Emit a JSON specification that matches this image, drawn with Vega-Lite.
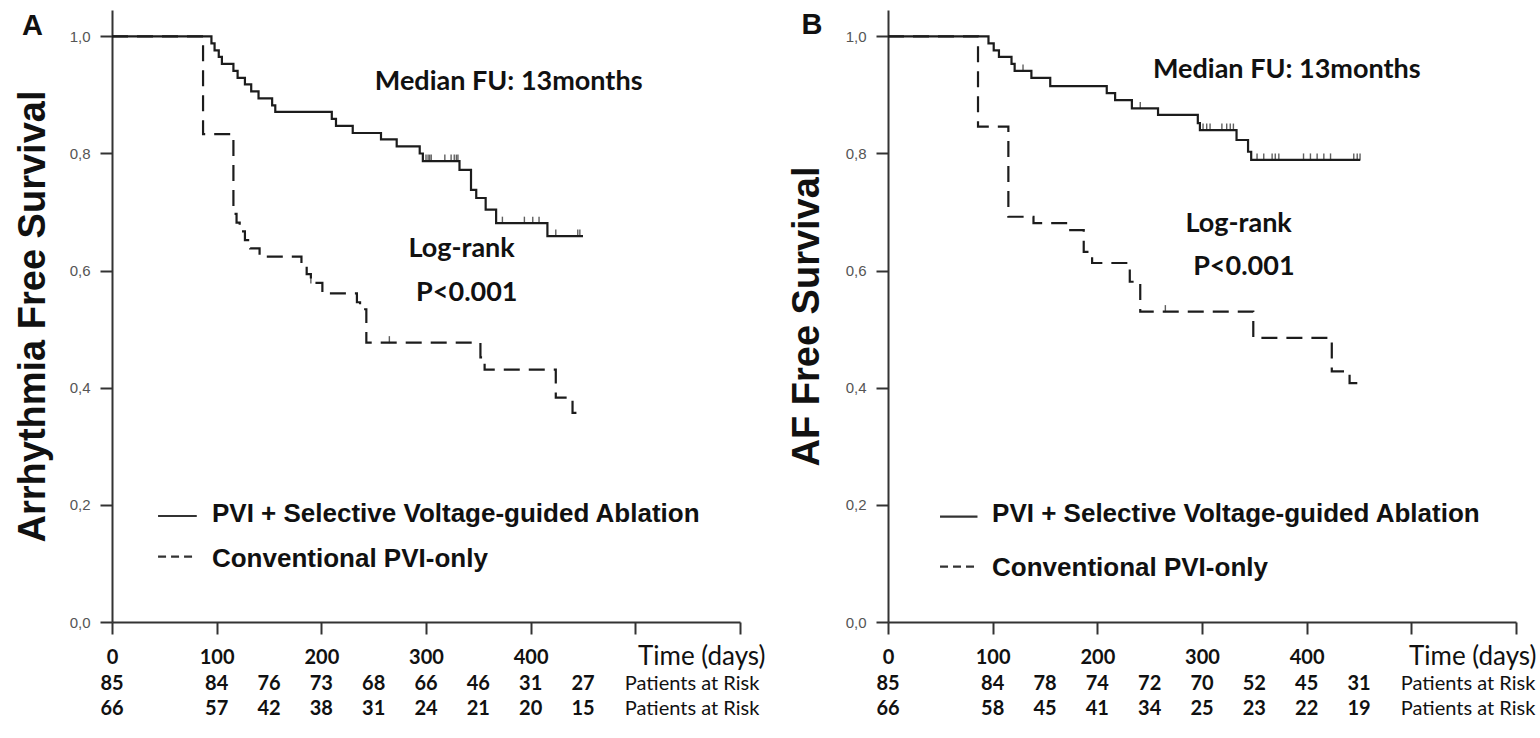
{
  "$schema": "https://vega.github.io/schema/vega-lite/v6.json",
  "background": "white",
  "autosize": {"type": "pad"},
  "padding": {"left": 14, "top": 10, "right": 0, "bottom": 0},
  "config": {"view": {"stroke": null}, "axis": {"grid": false}},
  "datasets": {
    "survA": [
      {"group": "pvi", "t": 0, "s": 1.0}, {"group": "pvi", "t": 95, "s": 0.988}, {"group": "pvi", "t": 98, "s": 0.976}, {"group": "pvi", "t": 102, "s": 0.965}, {"group": "pvi", "t": 105, "s": 0.953}, {"group": "pvi", "t": 116, "s": 0.941}, {"group": "pvi", "t": 120, "s": 0.929}, {"group": "pvi", "t": 127, "s": 0.918}, {"group": "pvi", "t": 133, "s": 0.906}, {"group": "pvi", "t": 140, "s": 0.894}, {"group": "pvi", "t": 153, "s": 0.882}, {"group": "pvi", "t": 156, "s": 0.871}, {"group": "pvi", "t": 210, "s": 0.859}, {"group": "pvi", "t": 214, "s": 0.847}, {"group": "pvi", "t": 230, "s": 0.835}, {"group": "pvi", "t": 257, "s": 0.824}, {"group": "pvi", "t": 272, "s": 0.812}, {"group": "pvi", "t": 294, "s": 0.8}, {"group": "pvi", "t": 297, "s": 0.787}, {"group": "pvi", "t": 332, "s": 0.772}, {"group": "pvi", "t": 343, "s": 0.738}, {"group": "pvi", "t": 348, "s": 0.724}, {"group": "pvi", "t": 357, "s": 0.704}, {"group": "pvi", "t": 367, "s": 0.681}, {"group": "pvi", "t": 416, "s": 0.659}, {"group": "pvi", "t": 450, "s": 0.659},
      {"group": "conv", "t": 0, "s": 1.0}, {"group": "conv", "t": 87, "s": 0.833}, {"group": "conv", "t": 116, "s": 0.697}, {"group": "conv", "t": 119, "s": 0.682}, {"group": "conv", "t": 122, "s": 0.667}, {"group": "conv", "t": 127, "s": 0.652}, {"group": "conv", "t": 132, "s": 0.638}, {"group": "conv", "t": 141, "s": 0.624}, {"group": "conv", "t": 181, "s": 0.609}, {"group": "conv", "t": 186, "s": 0.594}, {"group": "conv", "t": 190, "s": 0.579}, {"group": "conv", "t": 201, "s": 0.561}, {"group": "conv", "t": 234, "s": 0.546}, {"group": "conv", "t": 237, "s": 0.534}, {"group": "conv", "t": 243, "s": 0.477}, {"group": "conv", "t": 352, "s": 0.452}, {"group": "conv", "t": 356, "s": 0.431}, {"group": "conv", "t": 424, "s": 0.383}, {"group": "conv", "t": 440, "s": 0.357}, {"group": "conv", "t": 448, "s": 0.357}
    ],
    "survB": [
      {"group": "pvi", "t": 0, "s": 1.0}, {"group": "pvi", "t": 96, "s": 0.988}, {"group": "pvi", "t": 101, "s": 0.976}, {"group": "pvi", "t": 106, "s": 0.965}, {"group": "pvi", "t": 118, "s": 0.953}, {"group": "pvi", "t": 121, "s": 0.941}, {"group": "pvi", "t": 137, "s": 0.929}, {"group": "pvi", "t": 155, "s": 0.915}, {"group": "pvi", "t": 209, "s": 0.903}, {"group": "pvi", "t": 217, "s": 0.891}, {"group": "pvi", "t": 233, "s": 0.877}, {"group": "pvi", "t": 258, "s": 0.866}, {"group": "pvi", "t": 296, "s": 0.852}, {"group": "pvi", "t": 298, "s": 0.84}, {"group": "pvi", "t": 333, "s": 0.823}, {"group": "pvi", "t": 344, "s": 0.803}, {"group": "pvi", "t": 347, "s": 0.789}, {"group": "pvi", "t": 451, "s": 0.789},
      {"group": "conv", "t": 0, "s": 1.0}, {"group": "conv", "t": 86, "s": 0.846}, {"group": "conv", "t": 115, "s": 0.692}, {"group": "conv", "t": 139, "s": 0.681}, {"group": "conv", "t": 172, "s": 0.669}, {"group": "conv", "t": 187, "s": 0.632}, {"group": "conv", "t": 195, "s": 0.613}, {"group": "conv", "t": 231, "s": 0.581}, {"group": "conv", "t": 241, "s": 0.53}, {"group": "conv", "t": 349, "s": 0.485}, {"group": "conv", "t": 424, "s": 0.428}, {"group": "conv", "t": 441, "s": 0.408}, {"group": "conv", "t": 451, "s": 0.408}
    ],
    "censA": [
      {"t": 300, "s": 0.787}, {"t": 302, "s": 0.787}, {"t": 303.5, "s": 0.787}, {"t": 305, "s": 0.787}, {"t": 318, "s": 0.787}, {"t": 324, "s": 0.787}, {"t": 327, "s": 0.787}, {"t": 329, "s": 0.787}, {"t": 330.5, "s": 0.787},
      {"t": 373, "s": 0.681}, {"t": 394, "s": 0.681}, {"t": 402, "s": 0.681}, {"t": 408, "s": 0.681},
      {"t": 424, "s": 0.659}, {"t": 445, "s": 0.659}, {"t": 447, "s": 0.659},
      {"t": 190, "s": 0.579}, {"t": 265, "s": 0.477}
    ],
    "censB": [
      {"t": 129, "s": 0.941}, {"t": 241, "s": 0.877},
      {"t": 301, "s": 0.84}, {"t": 304.5, "s": 0.84}, {"t": 307.7, "s": 0.84}, {"t": 319, "s": 0.84}, {"t": 323.6, "s": 0.84}, {"t": 327, "s": 0.84}, {"t": 330, "s": 0.84},
      {"t": 352.6, "s": 0.789}, {"t": 359, "s": 0.789}, {"t": 367, "s": 0.789}, {"t": 370, "s": 0.789}, {"t": 373.4, "s": 0.789}, {"t": 397, "s": 0.789}, {"t": 403.6, "s": 0.789}, {"t": 410, "s": 0.789}, {"t": 416.4, "s": 0.789}, {"t": 422.8, "s": 0.789}, {"t": 445, "s": 0.789}, {"t": 448.3, "s": 0.789}, {"t": 451, "s": 0.789},
      {"t": 265, "s": 0.53}
    ],
    "riskA": [
      {"group": "pvi", "t": 0, "n": 85}, {"group": "pvi", "t": 100, "n": 84}, {"group": "pvi", "t": 150, "n": 76}, {"group": "pvi", "t": 200, "n": 73}, {"group": "pvi", "t": 250, "n": 68}, {"group": "pvi", "t": 300, "n": 66}, {"group": "pvi", "t": 350, "n": 46}, {"group": "pvi", "t": 400, "n": 31}, {"group": "pvi", "t": 450, "n": 27},
      {"group": "conv", "t": 0, "n": 66}, {"group": "conv", "t": 100, "n": 57}, {"group": "conv", "t": 150, "n": 42}, {"group": "conv", "t": 200, "n": 38}, {"group": "conv", "t": 250, "n": 31}, {"group": "conv", "t": 300, "n": 24}, {"group": "conv", "t": 350, "n": 21}, {"group": "conv", "t": 400, "n": 20}, {"group": "conv", "t": 450, "n": 15}
    ],
    "riskB": [
      {"group": "pvi", "t": 0, "n": 85}, {"group": "pvi", "t": 100, "n": 84}, {"group": "pvi", "t": 150, "n": 78}, {"group": "pvi", "t": 200, "n": 74}, {"group": "pvi", "t": 250, "n": 72}, {"group": "pvi", "t": 300, "n": 70}, {"group": "pvi", "t": 350, "n": 52}, {"group": "pvi", "t": 400, "n": 45}, {"group": "pvi", "t": 450, "n": 31},
      {"group": "conv", "t": 0, "n": 66}, {"group": "conv", "t": 100, "n": 58}, {"group": "conv", "t": 150, "n": 45}, {"group": "conv", "t": 200, "n": 41}, {"group": "conv", "t": 250, "n": 34}, {"group": "conv", "t": 300, "n": 25}, {"group": "conv", "t": 350, "n": 23}, {"group": "conv", "t": 400, "n": 22}, {"group": "conv", "t": 450, "n": 19}
    ]
  },
  "bounds": "flush",
  "spacing": 148,
  "hconcat": [
    {
      "width": 628, "height": 612,
      "layer": [
        {
          "data": {"name": "survA"},
          "transform": [{"filter": "datum.group == 'pvi'"}],
          "mark": {"type": "line", "interpolate": "step-after", "strokeWidth": 2.2, "color": "#1c1c1c"},
          "encoding": {
            "x": {"field": "t", "type": "quantitative", "scale": {"domain": [0, 600], "nice": false, "zero": false},
              "axis": {"values": [0, 100, 200, 300, 400, 500, 600], "labelExpr": "datum.value <= 400 ? datum.label : ''", "labelFlush": false, "labelOverlap": false, "labelFont": "Lato", "labelFontSize": 20, "labelFontWeight": "bold", "labelColor": "#111", "labelPadding": 13, "tickSize": 12, "tickWidth": 2, "tickColor": "#333", "domainColor": "#333", "domainWidth": 2, "title": "Time (days)", "titleFont": "Lato", "titleFontSize": 26, "titleFontWeight": "normal", "titleColor": "#111", "titleAlign": "right", "titleAnchor": "end", "titleBaseline": "middle", "titleX": 653, "titleY": 34, "grid": false}},
            "y": {"field": "s", "type": "quantitative", "scale": {"domain": [0, 1.045], "nice": false, "zero": false},
              "axis": {"values": [0, 0.2, 0.4, 0.6, 0.8, 1], "labelExpr": "replace(format(datum.value, '.1f'), '.', ',')", "labelFlush": false, "labelOverlap": false, "labelFont": "Liberation Sans", "labelFontSize": 15, "labelColor": "#555", "labelPadding": 10, "tickSize": 12, "tickWidth": 2, "tickColor": "#333", "domainColor": "#333", "domainWidth": 2, "title": "Arrhythmia Free Survival", "titleFont": "Liberation Sans", "titleFontSize": 38, "titleFontWeight": "bold", "titleColor": "#111", "titlePadding": 17, "grid": false}}
          }
        },
        {
          "data": {"name": "survA"},
          "transform": [{"filter": "datum.group == 'conv'"}],
          "mark": {"type": "line", "interpolate": "step-after", "strokeWidth": 2.2, "color": "#1c1c1c", "strokeDash": [16, 9]},
          "encoding": {
            "x": {"field": "t", "type": "quantitative", "scale": {"domain": [0, 600]}},
            "y": {"field": "s", "type": "quantitative", "scale": {"domain": [0, 1.045]}}
          }
        },
        {
          "data": {"name": "censA"},
          "mark": {"type": "tick", "orient": "vertical", "size": 7, "thickness": 1.4, "color": "#1c1c1c", "yOffset": -3},
          "encoding": {
            "x": {"field": "t", "type": "quantitative", "scale": {"domain": [0, 600]}},
            "y": {"field": "s", "type": "quantitative", "scale": {"domain": [0, 1.045]}}
          }
        },
        {
          "data": {"name": "riskA"},
          "transform": [{"filter": "datum.group == 'pvi'"}],
          "mark": {"type": "text", "font": "Lato", "fontSize": 20, "fontWeight": "bold", "color": "#111", "align": "center", "baseline": "middle"},
          "encoding": {
            "x": {"field": "t", "type": "quantitative", "scale": {"domain": [0, 600]}},
            "y": {"datum": -0.106, "type": "quantitative", "scale": {"domain": [0, 1.045]}},
            "text": {"field": "n", "type": "quantitative"}
          }
        },
        {
          "data": {"name": "riskA"},
          "transform": [{"filter": "datum.group == 'conv'"}],
          "mark": {"type": "text", "font": "Lato", "fontSize": 20, "fontWeight": "bold", "color": "#111", "align": "center", "baseline": "middle"},
          "encoding": {
            "x": {"field": "t", "type": "quantitative", "scale": {"domain": [0, 600]}},
            "y": {"datum": -0.149, "type": "quantitative", "scale": {"domain": [0, 1.045]}},
            "text": {"field": "n", "type": "quantitative"}
          }
        },
        {
          "data": {"values": [{}]},
          "mark": {"type": "text", "text": "Patients at Risk", "font": "Lato", "fontSize": 20, "color": "#111", "align": "left", "baseline": "middle"},
          "encoding": {"x": {"datum": 490, "type": "quantitative", "scale": {"domain": [0, 600]}}, "y": {"datum": -0.106, "type": "quantitative", "scale": {"domain": [0, 1.045]}}}
        },
        {
          "data": {"values": [{}]},
          "mark": {"type": "text", "text": "Patients at Risk", "font": "Lato", "fontSize": 20, "color": "#111", "align": "left", "baseline": "middle"},
          "encoding": {"x": {"datum": 490, "type": "quantitative", "scale": {"domain": [0, 600]}}, "y": {"datum": -0.149, "type": "quantitative", "scale": {"domain": [0, 1.045]}}}
        },
        {
          "data": {"values": [{}]},
          "mark": {"type": "text", "text": "A", "font": "Liberation Sans", "fontWeight": "bold", "fontSize": 29, "color": "#111", "align": "center", "baseline": "middle"},
          "encoding": {"x": {"datum": -76, "type": "quantitative", "scale": {"domain": [0, 600]}}, "y": {"datum": 1.018, "type": "quantitative", "scale": {"domain": [0, 1.045]}}}
        },
        {
          "data": {"values": [{}]},
          "mark": {"type": "text", "text": "Median FU: 13months", "font": "Lato", "fontWeight": "bold", "fontSize": 27, "color": "#111", "align": "center", "baseline": "middle"},
          "encoding": {"x": {"datum": 379, "type": "quantitative", "scale": {"domain": [0, 600]}}, "y": {"datum": 0.922, "type": "quantitative", "scale": {"domain": [0, 1.045]}}}
        },
        {
          "data": {"values": [{}]},
          "mark": {"type": "text", "text": "Log-rank", "font": "Lato", "fontWeight": "bold", "fontSize": 27, "color": "#111", "align": "center", "baseline": "middle"},
          "encoding": {"x": {"datum": 334, "type": "quantitative", "scale": {"domain": [0, 600]}}, "y": {"datum": 0.637, "type": "quantitative", "scale": {"domain": [0, 1.045]}}}
        },
        {
          "data": {"values": [{}]},
          "mark": {"type": "text", "text": "P<0.001", "font": "Lato", "fontWeight": "bold", "fontSize": 27, "color": "#111", "align": "center", "baseline": "middle"},
          "encoding": {"x": {"datum": 339, "type": "quantitative", "scale": {"domain": [0, 600]}}, "y": {"datum": 0.562, "type": "quantitative", "scale": {"domain": [0, 1.045]}}}
        },
        {
          "data": {"values": [{}]},
          "mark": {"type": "rule", "strokeWidth": 2.2, "color": "#333"},
          "encoding": {"x": {"datum": 44, "type": "quantitative", "scale": {"domain": [0, 600]}}, "x2": {"datum": 81}, "y": {"datum": 0.181, "type": "quantitative", "scale": {"domain": [0, 1.045]}}}
        },
        {
          "data": {"values": [{}]},
          "mark": {"type": "rule", "strokeWidth": 2.2, "color": "#333", "strokeDash": [8, 5]},
          "encoding": {"x": {"datum": 44, "type": "quantitative", "scale": {"domain": [0, 600]}}, "x2": {"datum": 81}, "y": {"datum": 0.1115, "type": "quantitative", "scale": {"domain": [0, 1.045]}}}
        },
        {
          "data": {"values": [{}]},
          "mark": {"type": "text", "text": "PVI + Selective Voltage-guided Ablation", "font": "Liberation Sans", "fontWeight": "bold", "fontSize": 26, "color": "#111", "align": "left", "baseline": "middle"},
          "encoding": {"x": {"datum": 95.5, "type": "quantitative", "scale": {"domain": [0, 600]}}, "y": {"datum": 0.184, "type": "quantitative", "scale": {"domain": [0, 1.045]}}}
        },
        {
          "data": {"values": [{}]},
          "mark": {"type": "text", "text": "Conventional PVI-only", "font": "Liberation Sans", "fontWeight": "bold", "fontSize": 26, "color": "#111", "align": "left", "baseline": "middle"},
          "encoding": {"x": {"datum": 95.5, "type": "quantitative", "scale": {"domain": [0, 600]}}, "y": {"datum": 0.1076, "type": "quantitative", "scale": {"domain": [0, 1.045]}}}
        }
      ]
    },
    {
      "width": 628, "height": 612,
      "layer": [
        {
          "data": {"name": "survB"},
          "transform": [{"filter": "datum.group == 'pvi'"}],
          "mark": {"type": "line", "interpolate": "step-after", "strokeWidth": 2.2, "color": "#1c1c1c"},
          "encoding": {
            "x": {"field": "t", "type": "quantitative", "scale": {"domain": [0, 600], "nice": false, "zero": false},
              "axis": {"values": [0, 100, 200, 300, 400, 500, 600], "labelExpr": "datum.value <= 400 ? datum.label : ''", "labelFlush": false, "labelOverlap": false, "labelFont": "Lato", "labelFontSize": 20, "labelFontWeight": "bold", "labelColor": "#111", "labelPadding": 13, "tickSize": 12, "tickWidth": 2, "tickColor": "#333", "domainColor": "#333", "domainWidth": 2, "title": "Time (days)", "titleFont": "Lato", "titleFontSize": 26, "titleFontWeight": "normal", "titleColor": "#111", "titleAlign": "right", "titleAnchor": "end", "titleBaseline": "middle", "titleX": 648, "titleY": 34, "grid": false}},
            "y": {"field": "s", "type": "quantitative", "scale": {"domain": [0, 1.045], "nice": false, "zero": false},
              "axis": {"values": [0, 0.2, 0.4, 0.6, 0.8, 1], "labelExpr": "replace(format(datum.value, '.1f'), '.', ',')", "labelFlush": false, "labelOverlap": false, "labelFont": "Liberation Sans", "labelFontSize": 15, "labelColor": "#555", "labelPadding": 10, "tickSize": 12, "tickWidth": 2, "tickColor": "#333", "domainColor": "#333", "domainWidth": 2, "title": "AF Free Survival", "titleFont": "Liberation Sans", "titleFontSize": 38, "titleFontWeight": "bold", "titleColor": "#111", "titlePadding": 19, "grid": false}}
          }
        },
        {
          "data": {"name": "survB"},
          "transform": [{"filter": "datum.group == 'conv'"}],
          "mark": {"type": "line", "interpolate": "step-after", "strokeWidth": 2.2, "color": "#1c1c1c", "strokeDash": [16, 9]},
          "encoding": {
            "x": {"field": "t", "type": "quantitative", "scale": {"domain": [0, 600]}},
            "y": {"field": "s", "type": "quantitative", "scale": {"domain": [0, 1.045]}}
          }
        },
        {
          "data": {"name": "censB"},
          "mark": {"type": "tick", "orient": "vertical", "size": 7, "thickness": 1.4, "color": "#1c1c1c", "yOffset": -3},
          "encoding": {
            "x": {"field": "t", "type": "quantitative", "scale": {"domain": [0, 600]}},
            "y": {"field": "s", "type": "quantitative", "scale": {"domain": [0, 1.045]}}
          }
        },
        {
          "data": {"name": "riskB"},
          "transform": [{"filter": "datum.group == 'pvi'"}],
          "mark": {"type": "text", "font": "Lato", "fontSize": 20, "fontWeight": "bold", "color": "#111", "align": "center", "baseline": "middle"},
          "encoding": {
            "x": {"field": "t", "type": "quantitative", "scale": {"domain": [0, 600]}},
            "y": {"datum": -0.106, "type": "quantitative", "scale": {"domain": [0, 1.045]}},
            "text": {"field": "n", "type": "quantitative"}
          }
        },
        {
          "data": {"name": "riskB"},
          "transform": [{"filter": "datum.group == 'conv'"}],
          "mark": {"type": "text", "font": "Lato", "fontSize": 20, "fontWeight": "bold", "color": "#111", "align": "center", "baseline": "middle"},
          "encoding": {
            "x": {"field": "t", "type": "quantitative", "scale": {"domain": [0, 600]}},
            "y": {"datum": -0.149, "type": "quantitative", "scale": {"domain": [0, 1.045]}},
            "text": {"field": "n", "type": "quantitative"}
          }
        },
        {
          "data": {"values": [{}]},
          "mark": {"type": "text", "text": "Patients at Risk", "font": "Lato", "fontSize": 20, "color": "#111", "align": "left", "baseline": "middle"},
          "encoding": {"x": {"datum": 490, "type": "quantitative", "scale": {"domain": [0, 600]}}, "y": {"datum": -0.106, "type": "quantitative", "scale": {"domain": [0, 1.045]}}}
        },
        {
          "data": {"values": [{}]},
          "mark": {"type": "text", "text": "Patients at Risk", "font": "Lato", "fontSize": 20, "color": "#111", "align": "left", "baseline": "middle"},
          "encoding": {"x": {"datum": 490, "type": "quantitative", "scale": {"domain": [0, 600]}}, "y": {"datum": -0.149, "type": "quantitative", "scale": {"domain": [0, 1.045]}}}
        },
        {
          "data": {"values": [{}]},
          "mark": {"type": "text", "text": "B", "font": "Liberation Sans", "fontWeight": "bold", "fontSize": 29, "color": "#111", "align": "center", "baseline": "middle"},
          "encoding": {"x": {"datum": -72.6, "type": "quantitative", "scale": {"domain": [0, 600]}}, "y": {"datum": 1.019, "type": "quantitative", "scale": {"domain": [0, 1.045]}}}
        },
        {
          "data": {"values": [{}]},
          "mark": {"type": "text", "text": "Median FU: 13months", "font": "Lato", "fontWeight": "bold", "fontSize": 27, "color": "#111", "align": "center", "baseline": "middle"},
          "encoding": {"x": {"datum": 381, "type": "quantitative", "scale": {"domain": [0, 600]}}, "y": {"datum": 0.943, "type": "quantitative", "scale": {"domain": [0, 1.045]}}}
        },
        {
          "data": {"values": [{}]},
          "mark": {"type": "text", "text": "Log-rank", "font": "Lato", "fontWeight": "bold", "fontSize": 27, "color": "#111", "align": "center", "baseline": "middle"},
          "encoding": {"x": {"datum": 335, "type": "quantitative", "scale": {"domain": [0, 600]}}, "y": {"datum": 0.68, "type": "quantitative", "scale": {"domain": [0, 1.045]}}}
        },
        {
          "data": {"values": [{}]},
          "mark": {"type": "text", "text": "P<0.001", "font": "Lato", "fontWeight": "bold", "fontSize": 27, "color": "#111", "align": "center", "baseline": "middle"},
          "encoding": {"x": {"datum": 340, "type": "quantitative", "scale": {"domain": [0, 600]}}, "y": {"datum": 0.606, "type": "quantitative", "scale": {"domain": [0, 1.045]}}}
        },
        {
          "data": {"values": [{}]},
          "mark": {"type": "rule", "strokeWidth": 2.2, "color": "#333"},
          "encoding": {"x": {"datum": 49.7, "type": "quantitative", "scale": {"domain": [0, 600]}}, "x2": {"datum": 85.5}, "y": {"datum": 0.18, "type": "quantitative", "scale": {"domain": [0, 1.045]}}}
        },
        {
          "data": {"values": [{}]},
          "mark": {"type": "rule", "strokeWidth": 2.2, "color": "#333", "strokeDash": [8, 5]},
          "encoding": {"x": {"datum": 49.7, "type": "quantitative", "scale": {"domain": [0, 600]}}, "x2": {"datum": 85.5}, "y": {"datum": 0.0944, "type": "quantitative", "scale": {"domain": [0, 1.045]}}}
        },
        {
          "data": {"values": [{}]},
          "mark": {"type": "text", "text": "PVI + Selective Voltage-guided Ablation", "font": "Liberation Sans", "fontWeight": "bold", "fontSize": 26, "color": "#111", "align": "left", "baseline": "middle"},
          "encoding": {"x": {"datum": 99.4, "type": "quantitative", "scale": {"domain": [0, 600]}}, "y": {"datum": 0.184, "type": "quantitative", "scale": {"domain": [0, 1.045]}}}
        },
        {
          "data": {"values": [{}]},
          "mark": {"type": "text", "text": "Conventional PVI-only", "font": "Liberation Sans", "fontWeight": "bold", "fontSize": 26, "color": "#111", "align": "left", "baseline": "middle"},
          "encoding": {"x": {"datum": 99.4, "type": "quantitative", "scale": {"domain": [0, 600]}}, "y": {"datum": 0.0914, "type": "quantitative", "scale": {"domain": [0, 1.045]}}}
        }
      ]
    }
  ]
}
